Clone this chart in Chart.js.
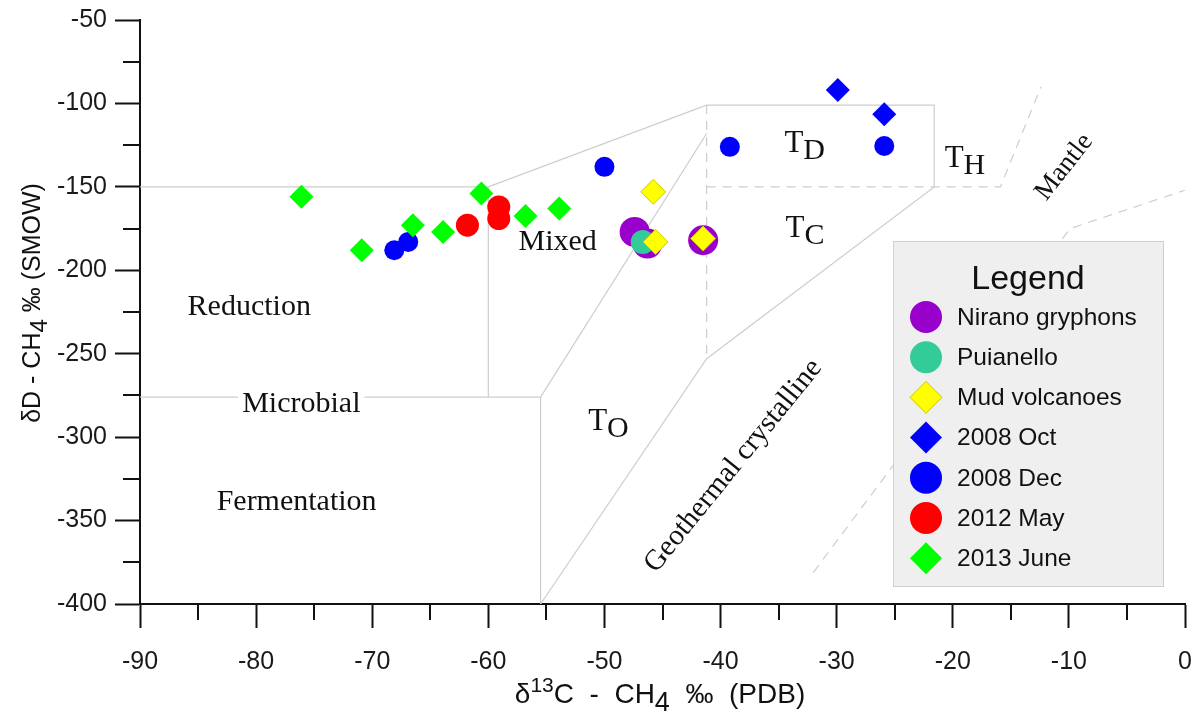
<!DOCTYPE html>
<html>
<head>
<meta charset="utf-8">
<script src="https://cdn.jsdelivr.net/npm/chart.js@4.4.1/dist/chart.umd.min.js"></script>
<style>
  html, body { margin: 0; padding: 0; background: #fff; }
</style>
</head>
<body>
<canvas id="myChart" width="1195" height="720"></canvas>
<script>
// isotope data, delta13C (x) and deltaD (y)
var niranoX = [-47.4, -46.3, -41.5];
var niranoY = [-177, -184, -182];
var puianelloX = [-46.7];
var puianelloY = [-183];
var mudX = [-45.8, -45.6, -41.5];
var mudY = [-153, -183, -181];
var oct2008X = [-29.9, -25.9];
var oct2008Y = [-92, -106.5];
var dec2008X = [-68.1, -66.9, -50, -39.2, -25.9];
var dec2008Y = [-188, -183, -138, -126, -125.5];
var may2012X = [-61.8, -59.1, -59.1];
var may2012Y = [-173, -162, -169];
var june2013X = [-76.1, -70.9, -66.5, -63.9, -60.6, -56.8, -53.9];
var june2013Y = [-156, -188, -173, -177, -154, -167.5, -163];

var xTicks = [-90, -80, -70, -60, -50, -40, -30, -20, -10, 0];
var yTicks = [-50, -100, -150, -200, -250, -300, -350, -400];
var xMinor = [-85, -75, -65, -55, -45, -35, -25, -15, -5];
var yMinor = [-75, -125, -175, -225, -275, -325, -375];

// genetic field boundaries (data units)
var solidBounds = [
  [[-90, -150], [-60, -150], [-41.2, -101], [-21.6, -101], [-21.6, -150], [-41.2, -253], [-55.5, -400]],
  [[-60, -150], [-60, -276]],
  [[-90, -276], [-55.5, -276], [-41.2, -118]],
  [[-55.5, -276], [-55.5, -400]]
];
var dashedBounds = [
  [[-41.2, -101], [-41.2, -253]],
  [[-41.2, -150], [-15.9, -150], [-12.4, -90]],
  [[-32, -381], [-9.9, -175], [0, -152]]
];

var fieldLabels = [
  { text: 'Reduction', x: -85.9, y: -226.8 },
  { text: 'Microbial', x: -81.2, y: -284.9, knockout: true },
  { text: 'Fermentation', x: -83.4, y: -343.7 },
  { text: 'Mixed', x: -57.4, y: -187.8 }
];
var tLabels = [
  { sub: 'D', x: -34.5, y: -129.1 },
  { sub: 'C', x: -34.4, y: -180.0 },
  { sub: 'H', x: -20.7, y: -138.1 },
  { sub: 'O', x: -51.4, y: -295.7 }
];
var slantLabels = [
  { text: 'Mantle', x: -10.4, y: -138.1, angle: -52 },
  { text: 'Geothermal crystalline', x: -38.9, y: -317.3, angle: -51 }
];

function pts(xs, ys) {
  var out = [];
  for (var i = 0; i < xs.length; i++) out.push({ x: xs[i], y: ys[i] });
  return out;
}

var series = [
  { label: 'Nirano gryphons', x: niranoX, y: niranoY, color: '#9900cc', style: 'circle', r: 15, order: 3 },
  { label: 'Puianello', x: puianelloX, y: puianelloY, color: '#33cc99', style: 'circle', r: 12, order: 2 },
  { label: 'Mud volcanoes', x: mudX, y: mudY, color: '#ffff00', style: 'rectRot', r: 12.5, order: 1, border: '#c8c800' },
  { label: '2008 Oct', x: oct2008X, y: oct2008Y, color: '#0000ff', style: 'rectRot', r: 12, order: 7 },
  { label: '2008 Dec', x: dec2008X, y: dec2008Y, color: '#0000ff', style: 'circle', r: 10, order: 6 },
  { label: '2012 May', x: may2012X, y: may2012Y, color: '#ff0000', style: 'circle', r: 11.5, order: 4 },
  { label: '2013 June', x: june2013X, y: june2013Y, color: '#00ff00', style: 'rectRot', r: 12, order: 5 }
];

var datasets = [];
series.forEach(function (s) {
  datasets.push({
    label: s.label,
    data: pts(s.x, s.y),
    pointStyle: s.style,
    pointRadius: s.r,
    pointBackgroundColor: s.color,
    pointBorderColor: s.border || s.color,
    pointBorderWidth: s.border ? 1 : 0,
    showLine: false,
    order: s.order
  });
});
function boundSet(line, dashed) {
  return {
    label: '',
    data: line.map(function (p) { return { x: p[0], y: p[1] }; }),
    showLine: true,
    pointRadius: 0,
    borderColor: '#cdcdcd',
    borderWidth: 1.2,
    borderDash: dashed ? [9, 7] : [],
    fill: false,
    order: 20
  };
}
solidBounds.forEach(function (l) { datasets.push(boundSet(l, false)); });
dashedBounds.forEach(function (l) { datasets.push(boundSet(l, true)); });

function marker(ctx, style, x, y, r) {
  ctx.beginPath();
  if (style === 'circle') {
    ctx.arc(x, y, r, 0, Math.PI * 2);
  } else {
    ctx.moveTo(x, y - r);
    ctx.lineTo(x + r, y);
    ctx.lineTo(x, y + r);
    ctx.lineTo(x - r, y);
    ctx.closePath();
  }
}

function drawParts(ctx, parts, x, y) {
  var total = 0;
  parts.forEach(function (p) {
    ctx.font = p.size + 'px "Liberation Sans", Arial, sans-serif';
    p.w = ctx.measureText(p.t).width;
    total += p.w;
  });
  var cx = x - total / 2;
  parts.forEach(function (p) {
    ctx.font = p.size + 'px "Liberation Sans", Arial, sans-serif';
    ctx.fillText(p.t, cx, y + (p.dy || 0));
    cx += p.w;
  });
}

var decor = {
  id: 'decor',
  afterDatasetsDraw: function (chart) {
    var ctx = chart.ctx;
    var xs = chart.scales.x, ys = chart.scales.y;
    var area = chart.chartArea;
    ctx.save();
    ctx.fillStyle = '#111';
    ctx.textBaseline = 'alphabetic';
    ctx.textAlign = 'left';
    ctx.font = '30px "Liberation Serif", "Times New Roman", serif';
    fieldLabels.forEach(function (l) {
      var px = xs.getPixelForValue(l.x), py = ys.getPixelForValue(l.y);
      if (l.knockout) {
        var w = ctx.measureText(l.text).width;
        ctx.fillStyle = '#fff';
        ctx.fillRect(px - 4, py - 24, w + 8, 30);
        ctx.fillStyle = '#111';
      }
      ctx.fillText(l.text, px, py);
    });
    tLabels.forEach(function (l) {
      var px = xs.getPixelForValue(l.x), py = ys.getPixelForValue(l.y);
      ctx.font = '31px "Liberation Serif", "Times New Roman", serif';
      ctx.fillText('T', px, py);
      var w = ctx.measureText('T').width;
      ctx.font = '30px "Liberation Serif", "Times New Roman", serif';
      ctx.fillText(l.sub, px + w, py + 7);
    });
    ctx.textAlign = 'center';
    ctx.textBaseline = 'middle';
    slantLabels.forEach(function (l) {
      var px = xs.getPixelForValue(l.x), py = ys.getPixelForValue(l.y);
      ctx.save();
      ctx.translate(px, py);
      ctx.rotate(l.angle * Math.PI / 180);
      ctx.font = (l.text === 'Mantle' ? 27 : 29) + 'px "Liberation Serif", "Times New Roman", serif';
      ctx.fillText(l.text, 0, 0);
      ctx.restore();
    });

    // legend box
    var bx = area.right - 292, by = area.top + 221, bw = 270, bh = 345;
    ctx.fillStyle = '#efefef';
    ctx.fillRect(bx, by, bw, bh);
    ctx.strokeStyle = '#cfcfcf';
    ctx.lineWidth = 1;
    ctx.strokeRect(bx + 0.5, by + 0.5, bw, bh);
    ctx.fillStyle = '#111';
    ctx.textAlign = 'center';
    ctx.textBaseline = 'middle';
    ctx.font = '34px "Liberation Sans", Arial, sans-serif';
    ctx.fillText('Legend', bx + 135, by + 39);
    ctx.textAlign = 'left';
    ctx.font = '24.5px "Liberation Sans", Arial, sans-serif';
    series.forEach(function (s, i) {
      var my = by + 76 + i * 40.2;
      marker(ctx, s.style, bx + 33, my, 16);
      ctx.fillStyle = s.color;
      ctx.fill();
      if (s.border) { ctx.strokeStyle = s.border; ctx.lineWidth = 1; ctx.stroke(); }
      ctx.fillStyle = '#111';
      ctx.fillText(s.label, bx + 64, my + 1);
    });
    ctx.restore();
  },
  afterDraw: function (chart) {
    var ctx = chart.ctx;
    var xs = chart.scales.x, ys = chart.scales.y;
    var area = chart.chartArea;
    ctx.save();
    ctx.strokeStyle = '#111';
    ctx.lineWidth = 2;
    xMinor.forEach(function (v) {
      var px = Math.round(xs.getPixelForValue(v));
      ctx.beginPath();
      ctx.moveTo(px, area.bottom);
      ctx.lineTo(px, area.bottom + 16);
      ctx.stroke();
    });
    yMinor.forEach(function (v) {
      var py = Math.round(ys.getPixelForValue(v));
      ctx.beginPath();
      ctx.moveTo(area.left - 17, py);
      ctx.lineTo(area.left, py);
      ctx.stroke();
    });
    // axis titles
    ctx.fillStyle = '#111';
    ctx.textAlign = 'left';
    ctx.textBaseline = 'alphabetic';
    drawParts(ctx, [
      { t: 'δ', size: 28 }, { t: '13', size: 21, dy: -11 }, { t: 'C  -  CH', size: 28 },
      { t: '4', size: 27, dy: 8 }, { t: '  ‰  (PDB)', size: 28 }
    ], 660, 703);
    ctx.save();
    ctx.translate(40, 303);
    ctx.rotate(-Math.PI / 2);
    drawParts(ctx, [
      { t: 'δD - CH', size: 25 }, { t: '4', size: 24, dy: 7 }, { t: ' ‰ (SMOW)', size: 25 }
    ], 0, 0);
    ctx.restore();
    ctx.restore();
  }
};

var config = {
  type: 'scatter',
  data: { datasets: datasets },
  options: {
    responsive: false,
    animation: false,
    layout: { autoPadding: false, padding: { top: 20, right: 10, bottom: 0, left: 0 } },
    plugins: { legend: { display: false }, tooltip: { enabled: false } },
    scales: {
      x: {
        type: 'linear', min: -90, max: 0,
        afterBuildTicks: function (s) { s.ticks = xTicks.map(function (v) { return { value: v }; }); },
        afterFit: function (s) { s.height = 116; s.paddingRight = 0; s.paddingLeft = 0; },
        border: { color: '#111', width: 2 },
        grid: { drawOnChartArea: false, tickLength: 24, tickWidth: 2, tickColor: '#111', color: '#111' },
        ticks: { color: '#1a1a1a', padding: 19, maxRotation: 0, autoSkip: false,
                 font: { family: '"Liberation Sans", Arial, sans-serif', size: 25 } }
      },
      y: {
        type: 'linear', min: -400, max: -50,
        afterBuildTicks: function (s) { s.ticks = yTicks.map(function (v) { return { value: v }; }); },
        afterFit: function (s) { s.width = 140; s.paddingTop = 0; s.paddingBottom = 0; },
        border: { color: '#111', width: 2 },
        grid: { drawOnChartArea: false, tickLength: 25, tickWidth: 2, tickColor: '#111', color: '#111' },
        ticks: { color: '#1a1a1a', padding: 8, autoSkip: false,
                 font: { family: '"Liberation Sans", Arial, sans-serif', size: 25 } }
      }
    }
  },
  plugins: [decor]
};

var myChart = new Chart(document.getElementById('myChart'), config);
</script>
</body>
</html>
